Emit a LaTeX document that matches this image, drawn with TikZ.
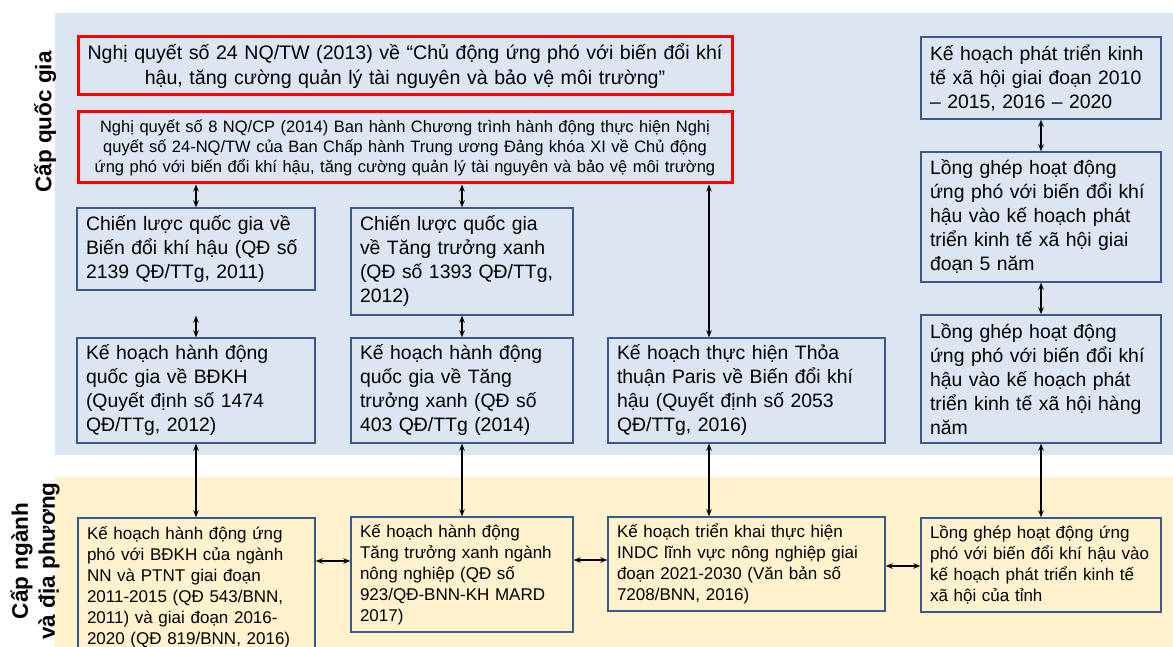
\documentclass[tikz,border=0pt]{standalone}
\usepackage{fontspec}
\setmainfont{Liberation Sans}
\usetikzlibrary{arrows.meta}
\definecolor{bandblue}{RGB}{220,230,242}
\definecolor{bandyel}{RGB}{255,242,204}
\definecolor{bord}{RGB}{59,89,140}
\definecolor{redb}{RGB}{255,0,0}
\begin{document}
\begin{tikzpicture}[x=1pt,y=-1pt,
  bx/.style={draw=bord, line width=1.4pt, fill=bandblue, inner xsep=9pt, inner ysep=2pt,
    align=left, text=black, font=\fontsize{19.4}{24}\selectfont},
  bxy/.style={bx, fill=bandyel, font=\fontsize{17}{21}\selectfont},
  rbx/.style={draw=redb, line width=3pt, fill=bandblue, inner xsep=2pt, inner ysep=2pt,
    align=center, text=black},
  lab/.style={rotate=90, align=center, font=\fontsize{22.5}{27}\selectfont\bfseries, text=black},
  arr/.style={{Stealth[length=7pt,width=5.5pt]}-{Stealth[length=7pt,width=5.5pt]}, line width=1.3pt, black}]
\useasboundingbox (0,0) rectangle (1173,647);
% bands
\fill[bandblue] (55,13) rectangle (1173,455);
\fill[bandyel] (55,477) rectangle (1173,647);
% labels
\node[lab] (l1) at (45,122) {Cấp quốc gia};
\node[lab] (l2) at (35,561) {Cấp ngành\\và địa phương};
% red boxes
\node[rbx, minimum height=58pt, text width=650pt, font=\fontsize{19.6}{24.5}\selectfont] (red1) at (405,66)
  {Nghị quyết số 24 NQ/TW (2013) về “Chủ động ứng phó với biến đổi khí\\hậu, tăng cường quản lý tài nguyên và bảo vệ môi trường”};
\node[rbx, minimum height=71pt, text width=650pt, font=\fontsize{16.5}{20}\selectfont] (red2) at (405,147.5)
  {Nghị quyết số 8 NQ/CP (2014) Ban hành Chương trình hành động thực hiện Nghị\\quyết số 24-NQ/TW của Ban Chấp hành Trung ương Đảng khóa XI về Chủ động\\ứng phó với biến đổi khí hậu, tăng cường quản lý tài nguyên và bảo vệ môi trường};
% row 2
\node[bx, minimum height=82pt, text width=220pt] (r2a) at (196,249)
  {Chiến lược quốc gia về\\Biến đổi khí hậu (QĐ số\\2139 QĐ/TTg, 2011)};
\node[bx, minimum height=107pt, text width=204pt] (r2b) at (462,261.5)
  {Chiến lược quốc gia\\về Tăng trưởng xanh\\(QĐ số 1393 QĐ/TTg,\\2012)};
% row 3
\node[bx, minimum height=105pt, text width=220pt] (r3a) at (196,390.5)
  {Kế hoạch hành động\\quốc gia về BĐKH\\(Quyết định số 1474\\QĐ/TTg, 2012)};
\node[bx, minimum height=105pt, text width=204pt] (r3b) at (462,390.5)
  {Kế hoạch hành động\\quốc gia về Tăng\\trưởng xanh (QĐ số\\403 QĐ/TTg (2014)};
\node[bx, minimum height=105pt, text width=259pt] (r3c) at (746.5,390.5)
  {Kế hoạch thực hiện Thỏa\\thuận Paris về Biến đổi khí\\hậu (Quyết định số 2053\\QĐ/TTg, 2016)};
% right column
\node[bx, minimum height=82pt, text width=222pt] (rA) at (1041,78)
  {Kế hoạch phát triển kinh\\tế xã hội giai đoạn 2010\\– 2015, 2016 – 2020};
\node[bx, minimum height=130pt, text width=222pt] (rB) at (1041,217)
  {Lồng ghép hoạt động\\ứng phó với biến đổi khí\\hậu vào kế hoạch phát\\triển kinh tế xã hội giai\\đoạn 5 năm};
\node[bx, minimum height=128pt, text width=222pt] (rC) at (1041,379)
  {Lồng ghép hoạt động\\ứng phó với biến đổi khí\\hậu vào kế hoạch phát\\triển kinh tế xã hội hàng\\năm};
% bottom row
\node[bxy, minimum height=138pt, text width=219pt] (b1) at (196.5,587)
  {Kế hoạch hành động ứng\\phó với BĐKH của ngành\\NN và PTNT giai đoạn\\2011-2015 (QĐ 543/BNN,\\2011) và giai đoạn 2016-\\2020 (QĐ 819/BNN, 2016)};
\node[bxy, minimum height=115pt, text width=204pt] (b2) at (462,574.5)
  {Kế hoạch hành động\\Tăng trưởng xanh ngành\\nông nghiệp (QĐ số\\923/QĐ-BNN-KH MARD\\2017)};
\node[bxy, minimum height=94pt, text width=259pt] (b3) at (746.5,564)
  {Kế hoạch triển khai thực hiện\\INDC lĩnh vực nông nghiệp giai\\đoạn 2021-2030 (Văn bản số\\7208/BNN, 2016)};
\node[bxy, minimum height=94pt, text width=222pt] (b4) at (1041,565)
  {Lồng ghép hoạt động ứng\\phó với biến đổi khí hậu vào\\kế hoạch phát triển kinh tế\\xã hội của tỉnh};
% helper coordinates
\coordinate (px) at (709,0);
\coordinate (h1) at (0,561);
\coordinate (h2) at (0,560);
\coordinate (h3) at (0,566);
% vertical connectors
\draw[arr] (r2a.north |- red2.south) -- (r2a.north);
\draw[arr] (r2b.north |- red2.south) -- (r2b.north);
\draw[arr] (px |- red2.south) -- (px |- r3c.north);
\draw[arr] (r3a.north |- r2b.south) -- (r3a.north);
\draw[arr] (r2b.south) -- (r3b.north);
\draw[arr] (r3a.south) -- (r3a.south |- b1.north);
\draw[arr] (r3b.south) -- (b2.north);
\draw[arr] (px |- r3c.south) -- (px |- b3.north);
\draw[arr] (rA.south) -- (rB.north);
\draw[arr] (rB.south) -- (rC.north);
\draw[arr] (rC.south) -- (b4.north);
% horizontal connectors
\draw[arr] (b1.east |- h1) -- (b2.west |- h1);
\draw[arr] (b2.east |- h2) -- (b3.west |- h2);
\draw[arr] (b3.east |- h3) -- (b4.west |- h3);
\end{tikzpicture}
\end{document}
